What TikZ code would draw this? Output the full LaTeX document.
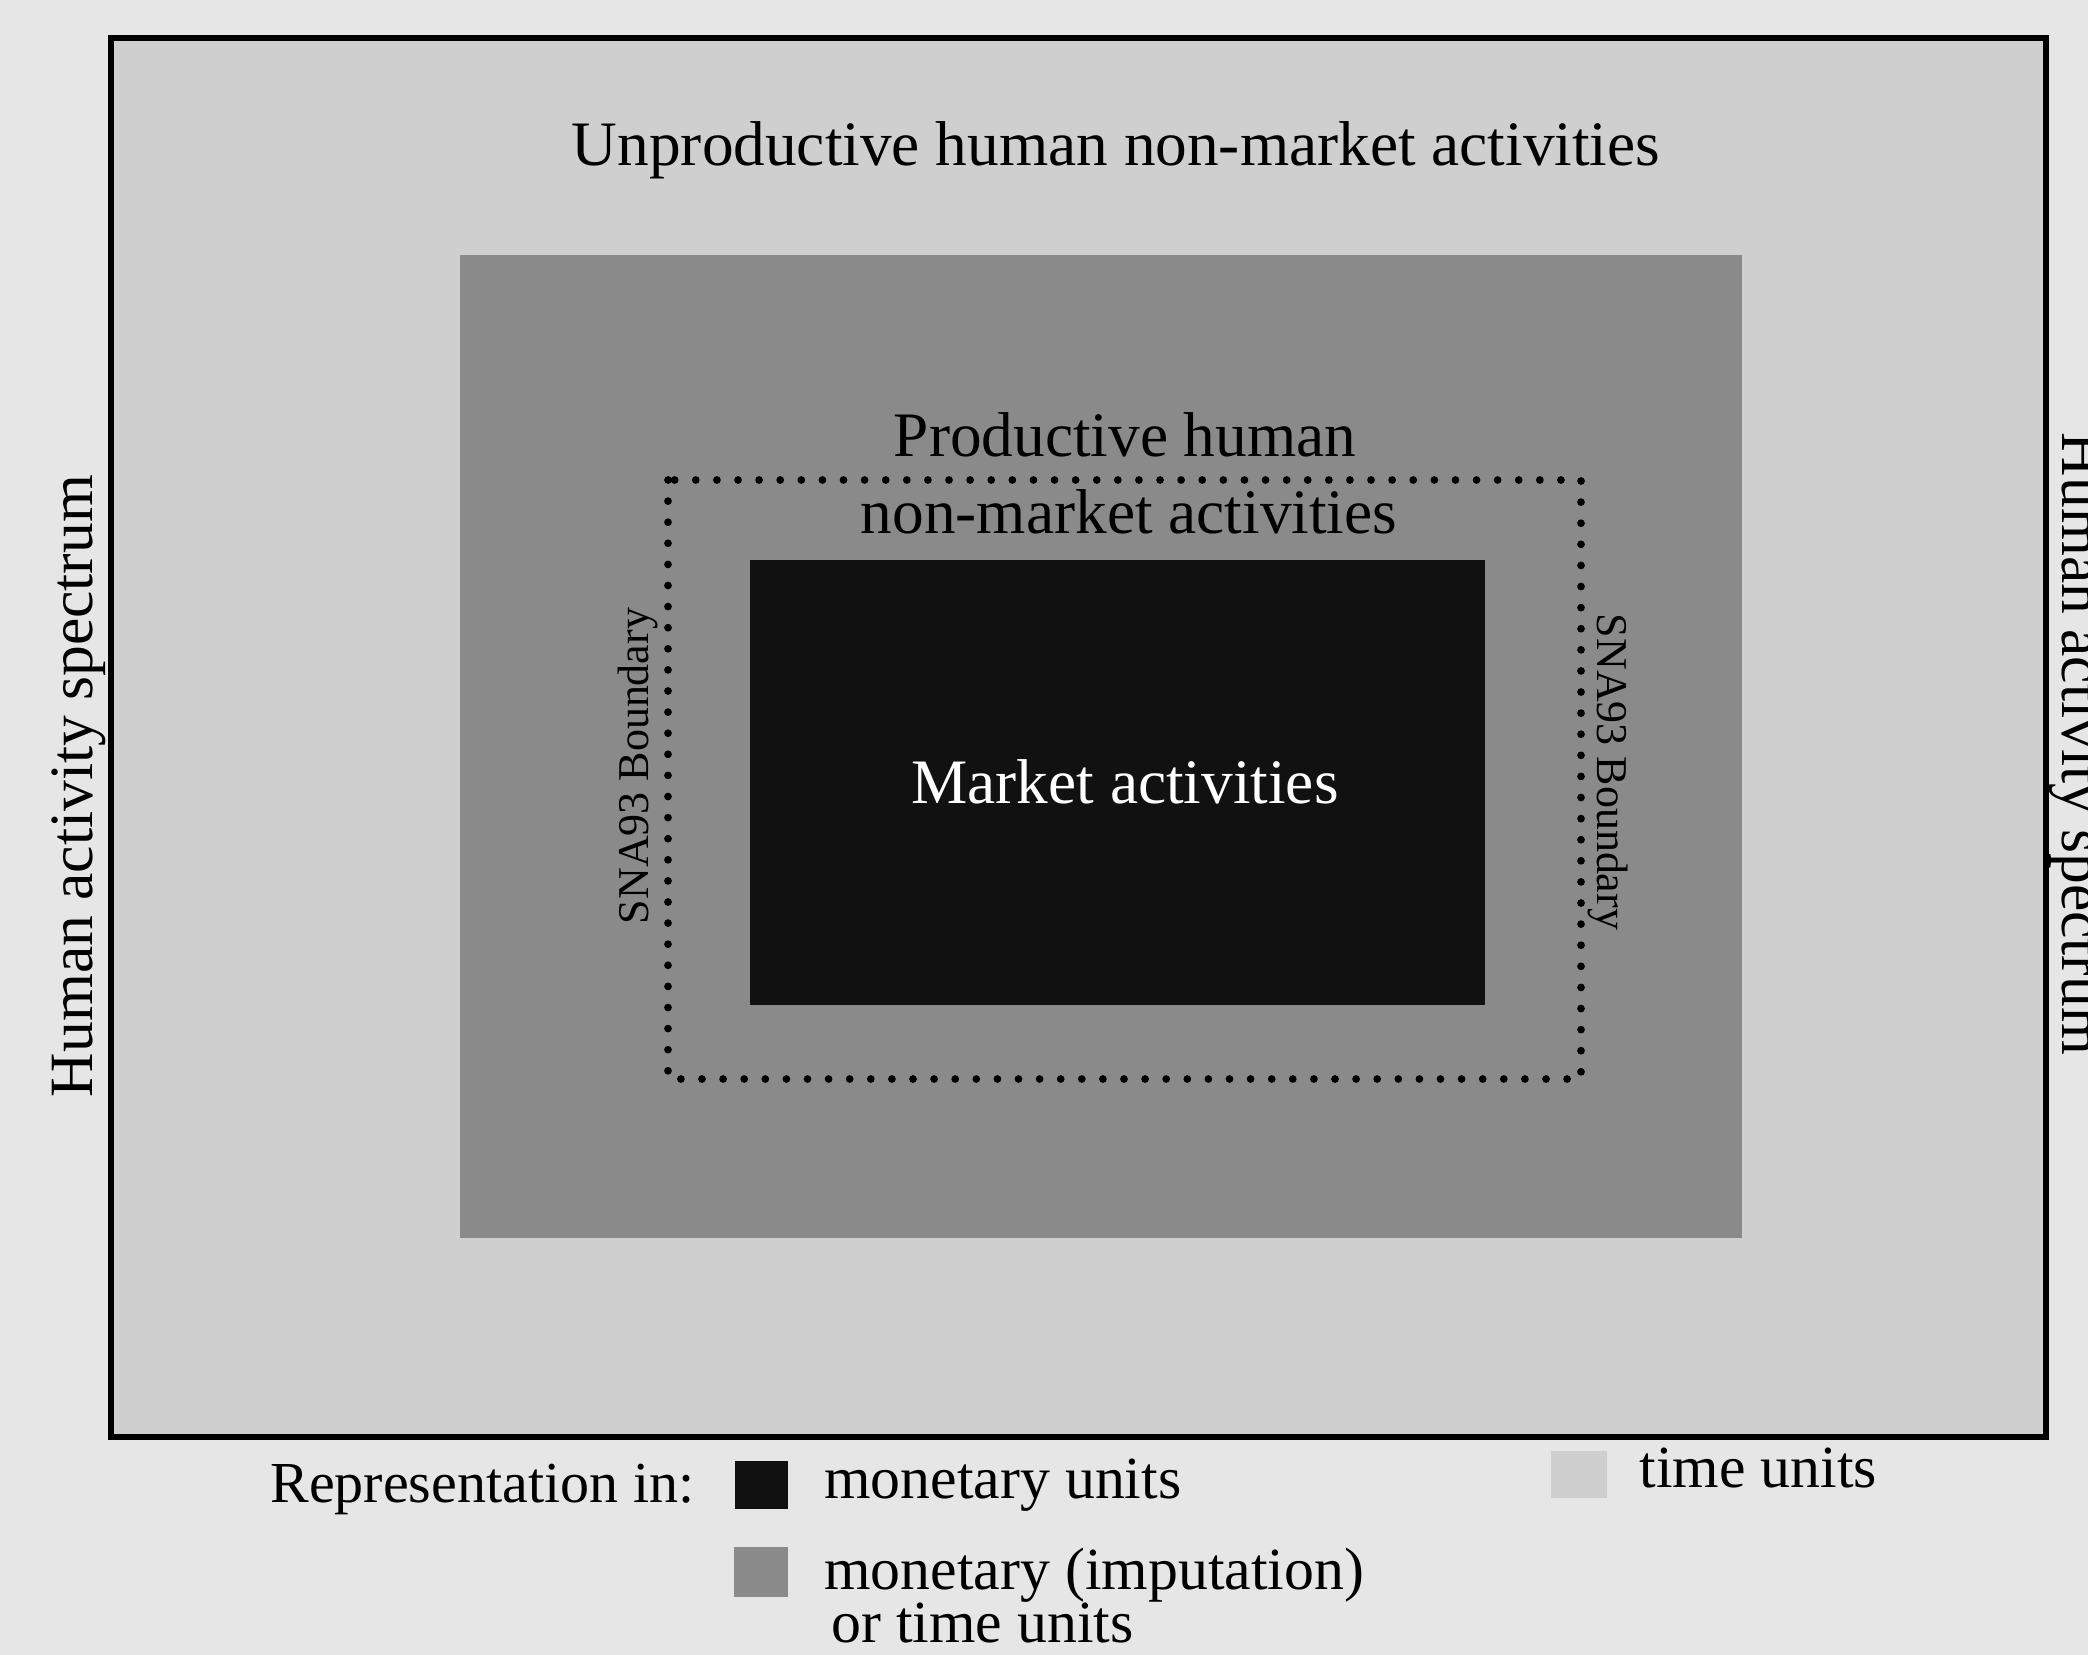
\documentclass[tikz,border=0pt]{standalone}
\usepackage{fontspec}
\setmainfont{Liberation Serif}
\definecolor{paper}{HTML}{E6E6E6}
\definecolor{timegray}{HTML}{CFCFCF}
\definecolor{imputegray}{HTML}{8A8A8A}
\definecolor{moneyblack}{HTML}{111111}
\begin{document}
\begin{tikzpicture}[x = 0.01cm, y = -0.01cm,
        boxlabel/.style = {anchor = base, font = \fontsize{18}{21}\selectfont},
        sidelabel/.style = {anchor = base, font = \fontsize{17.5}{20}\selectfont},
        snalabel/.style = {anchor = base, font = \fontsize{12.5}{15}\selectfont},
        keylabel/.style = {anchor = base west, font = \fontsize{17}{20}\selectfont}]
    \fill [paper] (0, 0) rectangle (2088, 1655);
    \useasboundingbox (0, 0) rectangle (2088, 1655);
    \filldraw [fill = timegray, line width = 1.8pt] (111, 38) rectangle (2046, 1437);
    \fill [imputegray] (460, 255) rectangle (1742, 1238);
    \draw [line width = 2.2pt, line cap = round, dash pattern = on 0pt off 6pt] (668, 480) rectangle (1581, 1079);
    \fill [moneyblack] (750, 560) rectangle (1485, 1005);
    \node [boxlabel] (unprod) at (1116, 166) {Unproductive human non-market activities};
    \node [boxlabel] (prodtop) at (1125, 457) {Productive human};
    \node [boxlabel] (prodbot) at (1129, 533) {non-market activities};
    \node [boxlabel, text = white] (market) at (1125, 803) {Market activities};
    \node [snalabel, rotate = 90] (snaL) at (648, 766) {SNA93 Boundary};
    \node [snalabel, rotate = -90] (snaR) at (1597, 772) {SNA93 Boundary};
    \node [sidelabel, rotate = 90] (spectrumL) at (92, 786) {Human activity spectrum};
    \node [sidelabel, rotate = -90] (spectrumR) at (2062, 744) {Human activity spectrum};
    \node [keylabel, font = \fontsize{16.5}{20}\selectfont] (keytitle) at (258, 1502) {Representation in:};
    \fill [moneyblack] (735, 1461) rectangle (788, 1509);
    \node [keylabel] (keymoney) at (812, 1498) {monetary units};
    \fill [imputegray] (734, 1547) rectangle (788, 1597);
    \node [keylabel] (keyimpute) at (812, 1589) {monetary (imputation)};
    \node [keylabel] (keyimpute2) at (819, 1642) {or time units};
    \fill [timegray] (1551, 1451) rectangle (1607, 1498);
    \node [keylabel] (keytime) at (1627, 1487) {time units};
\end{tikzpicture}
\end{document}
